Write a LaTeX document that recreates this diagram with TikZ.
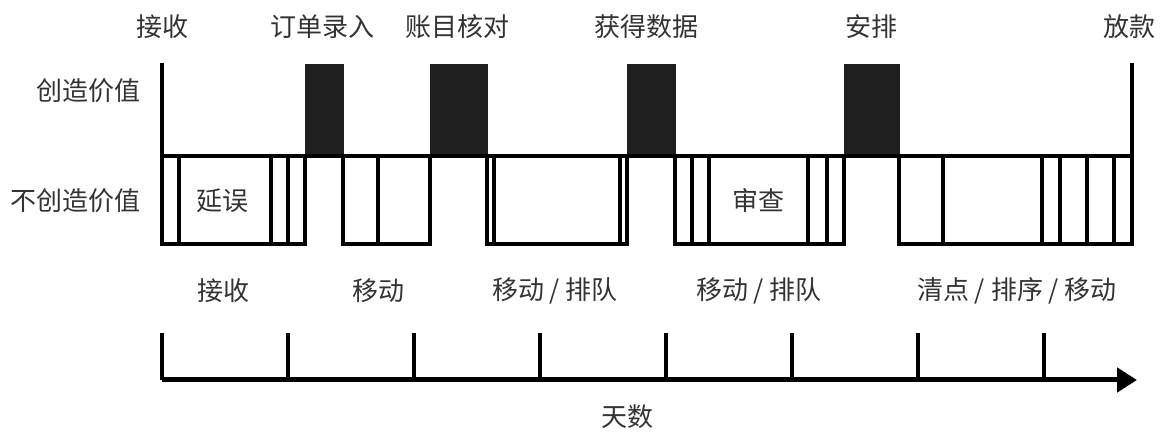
\documentclass[tikz,border=0pt]{standalone}
\usepackage{fontspec}
\newfontfamily\cjk{Noto Sans CJK SC}
\usepackage{xcolor}
\usetikzlibrary{arrows.meta,positioning,calc}

\begin{document}
\begin{tikzpicture}[
  x=1pt, y=-1pt,
  font=\cjk\fontsize{26}{29}\selectfont,
  txt/.style  = {inner sep=0pt, text=black!80},
  wall/.style = {line width=3.9pt, line cap=rect, line join=miter},
  bar/.style  = {fill=black!88, draw=black!88, line width=1pt},
  ar/.style   = {-{Triangle[length=20pt, width=24pt]}, line width=5pt},
]
\useasboundingbox (0,0) rectangle (1162,435);

%% --- value-adding blocks ---
\foreach \a/\b in {305/343, 430/487, 627/675, 844/899}
  \fill[bar] (\a,65) rectangle (\b,156);

%% --- frame and non-value segments ---
\draw[wall] (162,65) -- (162,244);
\draw[wall] (1132,65) -- (1132,244);
\draw[wall] (162,156) -- (1132,156);
\foreach \a/\b in {162/305, 343/430, 487/627, 675/844, 899/1132}
  \draw[wall] (\a,156) -- (\a,244) -- (\b,244) -- (\b,156);
\foreach \x in {179, 271, 288, 378, 494, 620, 692, 709, 808, 827,
                943, 1042, 1060, 1087, 1114}
  \draw[wall] (\x,156) -- (\x,244);

%% --- step labels ---
\node[txt] (recv)  at (162,27)  {接收};
\node[txt] (order) at (322,27)  {订单录入};
\node[txt] (check) at (457,27)  {账目核对};
\node[txt] (data)  at (646,27)  {获得数据};
\node[txt] (sched) at (871,27)  {安排};
\node[txt] (loan)  at (1129,27) {放款};

\node[txt, anchor=east] (va)  at (141,91)  {创造价值};
\node[txt, anchor=east] (nva) at (141,201) {不创造价值};

\node[txt] (delay)  at (222,201) {延误};
\node[txt] (review) at (758,201) {审查};

%% --- waste labels ---
\node[txt] (w1) at (223,291)  {接收};
\node[txt] (w2) at (378,291)  {移动};
\node[txt] (w3) at (555,291)  {移动 / 排队};
\node[txt] (w4) at (759,291)  {移动 / 排队};
\node[txt] (w5) at (1017,291) {清点 / 排序 / 移动};

%% --- time axis ---
\coordinate (o)   at (162,380);
\coordinate (end) at (1137,380);
\draw[ar] (o) -- (end);
\foreach \i in {0,...,7}
  \draw[line width=3.9pt] ($(o)+(126*\i,-47)$) -- ($(o)+(126*\i,0)$);
\node[txt] (days) at (627,417) {天数};
\end{tikzpicture}
\end{document}
